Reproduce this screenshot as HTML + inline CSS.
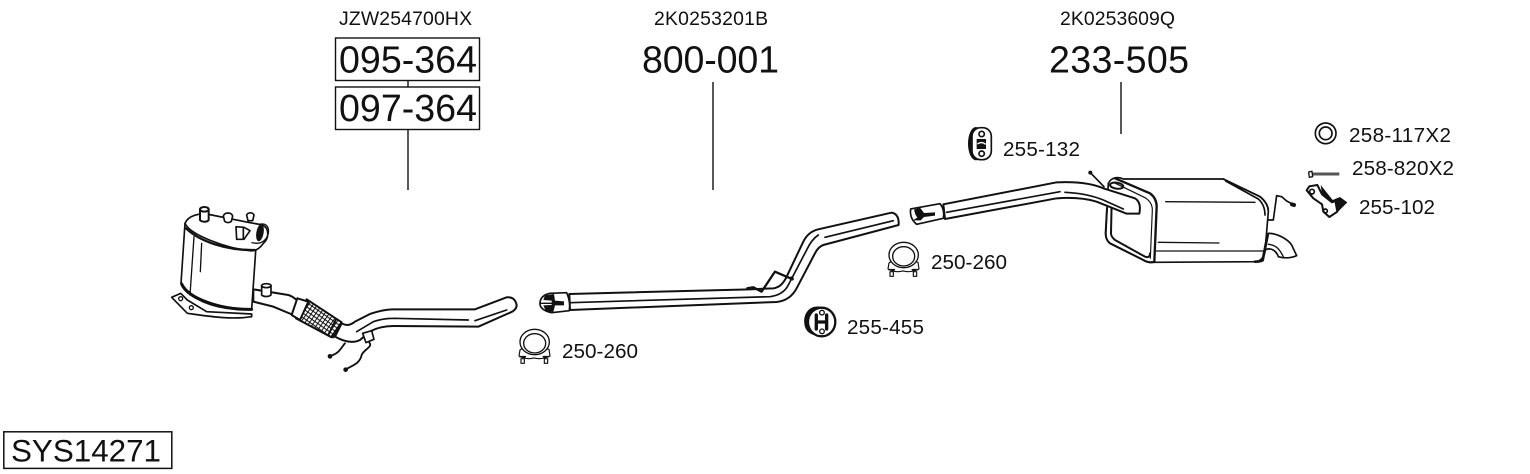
<!DOCTYPE html>
<html><head><meta charset="utf-8"><style>
html,body{margin:0;padding:0;background:#fff}
svg{display:block}
text{font-family:"Liberation Sans",sans-serif;fill:#111}
.n{font-size:19.4px}.b{font-size:37.6px}.s{font-size:20.7px}
.k{fill:none;stroke:#111;stroke-linecap:round;stroke-linejoin:round}
.w{fill:#fff;stroke:#111;stroke-linecap:round;stroke-linejoin:round}
</style></head><body>
<svg width="1530" height="474" viewBox="0 0 1530 474" xmlns="http://www.w3.org/2000/svg">
<defs>
<pattern id="m" width="11" height="11" patternUnits="userSpaceOnUse" patternTransform="rotate(35)">
<rect width="11" height="11" fill="#fff"/><path d="M0 0H11M0 0V11" stroke="#111" stroke-width="6"/>
</pattern>
<g id="clamp">
<path class="w" stroke-width="3.5" d="M30 72 L27 90 Q50 102 72 96 Q95 102 120 90 L117 70 L108 68 L36 68Z"/>
<path class="w" stroke-width="3.5" d="M33 98 h10 v14 h-10Z M103 98 h10 v14 h-10Z"/>
<path class="k" stroke-width="5" d="M30 92 h16 M100 92 h16"/>
<ellipse class="w" cx="74" cy="48" rx="44" ry="38" stroke-width="4"/>
<ellipse class="w" cx="74" cy="52" rx="33" ry="29" stroke-width="4"/>
</g>
</defs>

<!-- Labels and boxes -->
<text class="n" x="339" y="25" textLength="133">JZW254700HX</text>
<text class="n" x="654" y="25" textLength="114">2K0253201B</text>
<text class="n" x="1060" y="25" textLength="115">2K0253609Q</text>
<rect x="335.5" y="38" width="144" height="42.5" fill="none" stroke="#111" stroke-width="1.4"/>
<rect x="335.5" y="87" width="144" height="42.5" fill="none" stroke="#111" stroke-width="1.4"/>
<path d="M408 80.5V87M408 130V190M713 82V190M1121 82V134" stroke="#111" stroke-width="1.4" fill="none"/>
<text class="b" x="339" y="72.5" textLength="138">095-364</text>
<text class="b" x="339" y="121" textLength="138">097-364</text>
<text class="b" x="642" y="72.5" textLength="137">800-001</text>
<text class="b" x="1049" y="72.5" textLength="140">233-505</text>
<rect x="3.8" y="431.8" width="168" height="36.6" fill="none" stroke="#111" stroke-width="1.5"/>
<text x="11" y="461.5" font-size="31.4" textLength="150">SYS14271</text>
<text class="s" x="562" y="358" textLength="76">250-260</text>
<text class="s" x="847" y="334" textLength="77">255-455</text>
<text class="s" x="931" y="269" textLength="76">250-260</text>
<text class="s" x="1003" y="156" textLength="77">255-132</text>
<text class="s" x="1349" y="142" textLength="102">258-117X2</text>
<text class="s" x="1352" y="175" textLength="102">258-820X2</text>
<text class="s" x="1359" y="214" textLength="76">255-102</text>

<!-- DPF -->
<g transform="translate(170 200) scale(.3333)">
<path class="w" stroke-width="5" d="M5 292 L32 280 L52 300 L110 335 L245 342 L245 350 C180 360 110 348 52 340Z"/>
<circle class="k" cx="32" cy="296" r="6" stroke-width="4"/><circle class="k" cx="64" cy="323" r="6" stroke-width="4"/>
<path class="w" stroke-width="5" d="M45 70 L33 250 C40 280 100 315 170 325 L245 328 L258 140Z"/>
<path class="k" stroke-width="9" d="M35 252 C55 295 150 330 245 328"/>
<path class="k" stroke-width="4" d="M95 130 L91 215 M72 110 L60 285"/>
<path class="w" stroke-width="5" d="M45 70 C55 45 90 40 110 42 L240 68 L278 75 C298 85 298 115 280 130 C270 145 255 155 240 152 C170 145 60 105 45 70Z"/>
<path class="k" stroke-width="7" d="M48 85 C90 125 170 152 255 150"/>
<path class="w" stroke-width="6" d="M90 28 L116 28 L116 60 C110 68 95 66 90 60Z"/>
<ellipse class="w" cx="103" cy="28" rx="13" ry="7" stroke-width="6"/>
<path class="w" stroke-width="5" d="M160 48 C163 36 185 36 188 48 L184 64 C178 70 168 68 164 64Z"/>
<path class="w" stroke-width="5" d="M230 46 C232 36 250 36 252 46 L248 62 L234 62Z"/>
<path class="w" stroke-width="5" d="M198 80 L222 82 L240 92 L222 118 L200 118Z M220 82 V116"/>
<ellipse cx="270" cy="98" rx="11" ry="26" fill="#111" transform="rotate(10 270 98)"/>
<path class="k" stroke-width="4" d="M272 72 C296 68 302 95 288 116 C278 130 262 132 246 128"/>
</g>

<!-- Front pipe -->
<g transform="translate(160 190) scale(.3333)">
<path class="w" stroke-width="6" d="M280 298 L385 315 Q412 325 418 345 L400 375 L340 350 L280 335Z"/>
<path class="w" stroke-width="5" d="M305 286 L333 286 L333 315 C325 322 310 320 305 315Z"/>
<ellipse class="w" cx="319" cy="287" rx="14" ry="6" stroke-width="5"/>
<path class="w" stroke-width="6" d="M545 400 Q565 412 585 395 L630 372 Q670 358 700 358 L945 358 L1040 322 Q1065 320 1070 345 Q1070 360 1050 368 L955 410 L700 408 Q660 408 630 425 L600 450 Q570 465 525 440Z"/>
<path d="M440 328 L545 397 L515 442 L408 385Z" fill="url(#m)" stroke="#111" stroke-width="6" stroke-linejoin="round"/>
<path class="w" stroke-width="6" d="M412 325 L445 335 L420 390 L395 375Z"/>
<path class="k" stroke-width="6" d="M527 390 L505 435 M545 400 L520 442"/>
<path class="k" stroke-width="5" d="M700 385 L925 390 M945 392 L1040 360 M590 425 L640 395 Q670 385 700 385"/>
<path class="k" stroke-width="5.5" d="M555 460 C545 470 540 490 510 498 M628 458 C640 470 610 480 605 495 C600 520 580 525 558 538"/>
<circle cx="510" cy="499" r="7" fill="#111"/><circle cx="557" cy="539" r="7" fill="#111"/>
<path class="w" stroke-width="5" d="M608 430 L635 422 L642 448 L618 458Z"/>
</g>

<!-- Mid pipe -->
<g transform="translate(510 190) scale(.3333)">
<path class="w" stroke-width="6" d="M178 312 L720 298 L790 295 Q815 292 830 260 L880 155 Q895 125 925 118 L1145 68 Q1168 72 1166 105 L940 165 Q925 170 915 190 L860 295 Q840 332 800 336 L180 360Z"/>
<path class="k" stroke-width="5" d="M180 338 L780 320 Q820 315 835 285 L890 180 Q905 148 925 135 M945 142 L1150 92"/>
<path class="k" stroke-width="7" d="M712 295 L730 292 L755 305 L795 245 L848 268"/>
<circle cx="845" cy="265" r="6" fill="#111"/>
<path class="w" stroke-width="5" d="M120 310 L170 308 Q182 335 178 362 L125 368 Q88 360 90 338 Q92 316 120 310Z"/>
<path d="M105 316 L132 312 L135 332 L162 334 L162 346 L135 346 L130 366 L108 364 L100 346 L125 345 L125 332 L100 330Z" fill="#111"/>
<path class="k" stroke-width="4" d="M92 340 H125"/>
<!-- 255-455 -->
<path d="M930 350 C895 345 880 375 883 400 C885 425 905 438 930 437Z" fill="#111"/>
<ellipse class="w" cx="935" cy="396" rx="41" ry="43" stroke-width="7"/>
<path class="k" stroke-width="10" d="M919 375 V417 M950 375 V417 M919 396 H950"/>
<circle class="w" cx="936" cy="368" r="7" stroke-width="4"/><circle class="w" cx="936" cy="424" r="7" stroke-width="4"/>
</g>

<g transform="translate(510 326) scale(.3333)"><use href="#clamp"/></g>
<g transform="translate(879 239) scale(.3333)"><use href="#clamp"/></g>

<!-- Muffler -->
<g transform="translate(1095 165) scale(.3333)">
<path class="k" stroke-width="5" d="M520 165 L535 165 L545 92 L560 95 L575 108 L598 120"/>
<circle cx="597" cy="120" r="6" fill="#111"/>
<path class="w" stroke-width="5" d="M520 205 C550 205 580 225 590 240 L605 272 C590 280 565 280 550 275 C545 260 530 245 510 255Z"/>
<path class="k" stroke-width="4" d="M520 238 C545 240 555 255 565 275"/>
<path class="w" stroke-width="5" d="M40 55 C50 35 70 35 85 42 L385 42 L495 95 Q520 115 520 140 L510 260 Q505 285 485 290 L178 292 Q160 295 145 285 L45 235 Q32 225 32 205Z"/>
<path class="k" stroke-width="7" d="M60 40 L165 85 Q185 100 185 125 L178 290"/>
<path class="k" stroke-width="3.5" d="M55 52 L150 98 Q172 112 172 135 L166 280"/>
<path class="k" stroke-width="6" d="M50 110 L48 205 Q48 215 60 225 L150 275 Q165 280 165 265 M36 130 L32 205 Q32 225 45 235 L145 285 Q160 295 178 290"/>
<path class="k" stroke-width="5" d="M385 42 L495 95 Q520 115 520 140 M392 48 L490 102 Q510 120 510 150"/>
<path class="k" stroke-width="4" d="M212 110 L480 112 M190 232 L372 234 M185 258 L505 258"/>
<path class="k" stroke-width="8" d="M518 210 L503 286 Q495 290 480 290"/>
</g>

<!-- Rear pipe -->
<g transform="translate(900 115) scale(.3333)">
<path class="k" stroke-width="5" d="M570 172 L612 215"/>
<circle cx="571" cy="173" r="6" fill="#111"/>
<ellipse class="k" cx="650" cy="212" rx="20" ry="9" stroke-width="6" transform="rotate(8 650 212)"/>
<path class="w" stroke-width="6" d="M130 268 L470 202 Q560 198 610 220 L705 250 Q725 262 718 296 L680 296 L590 260 Q540 245 470 250 L135 312Z"/>
<path class="k" stroke-width="5" d="M140 292 L480 230 M495 232 Q560 235 610 255 L670 282"/>
<path class="w" stroke-width="5" d="M120 266 Q135 285 130 310 L50 328 Q28 310 32 282Z"/>
<path d="M42 284 L60 278 L72 294 L105 292 L105 302 L72 306 L62 316 L38 316 L52 308 L46 298Z" fill="#111"/>
<!-- 255-132 -->
<ellipse cx="228" cy="86" rx="24" ry="50" fill="#111"/>
<rect class="w" x="216" y="38" width="58" height="96" rx="26" stroke-width="5"/>
<rect x="230" y="72" width="28" height="30" fill="#111"/>
<path d="M232 87 Q245 78 257 88" fill="none" stroke="#fff" stroke-width="4"/>
<circle class="w" cx="245" cy="57" r="8" stroke-width="5"/><circle class="w" cx="245" cy="116" r="8" stroke-width="5"/>
</g>

<!-- Small parts -->
<g transform="translate(1290 115) scale(.3333)">
<circle class="k" cx="107" cy="55" r="31" stroke-width="5"/>
<circle class="k" cx="107" cy="55" r="19" stroke-width="5"/>
<path stroke="#555" fill="none" stroke-width="9" d="M68 177 L148 177"/>
<path class="w" stroke-width="4" d="M56 171 L66 169 L68 185 L58 187Z"/>
<path d="M92 210 L128 255 L150 246 L172 262 L142 292 L136 258 L124 264 L96 238Z" fill="#111"/>
<path class="w" stroke-width="6" d="M50 226 L58 214 L82 210 L96 238 L126 262 L136 258 L142 290 L118 306 L100 290 L96 268 L70 250Z"/>
<circle class="k" cx="66" cy="230" r="7" stroke-width="5"/>
<circle class="k" cx="106" cy="288" r="6" stroke-width="5"/>
<circle cx="6" cy="268" r="6" fill="#111"/>
</g>
</svg>
</body></html>
